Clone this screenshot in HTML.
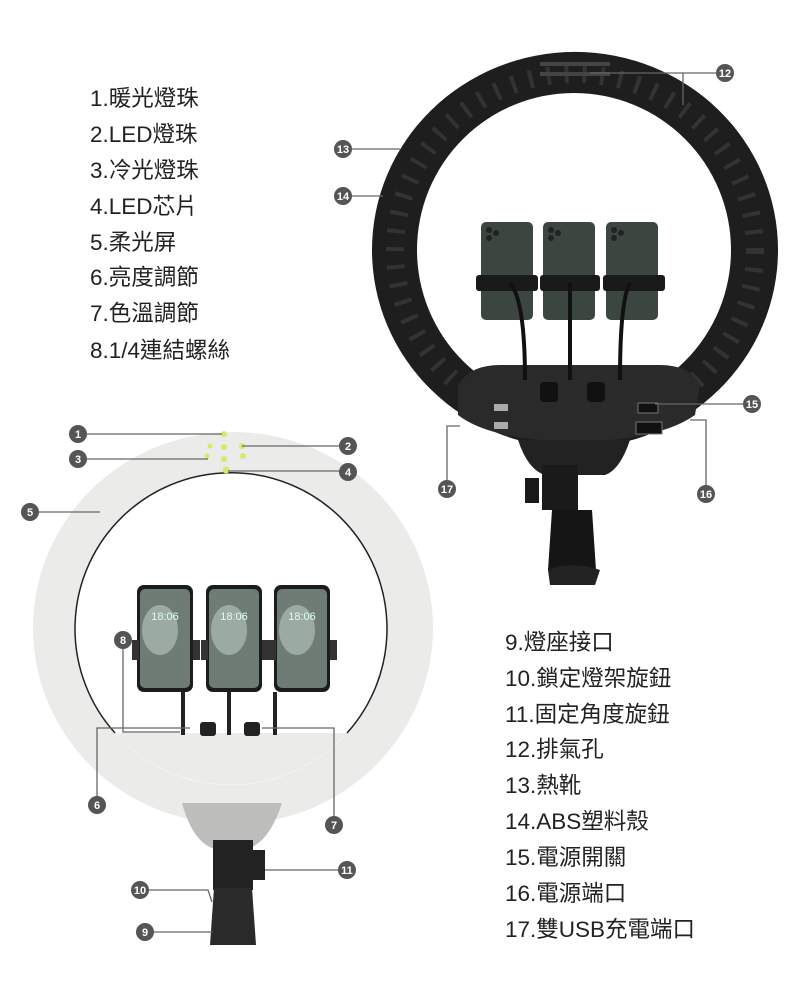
<!DOCTYPE html>
<html><head><meta charset="utf-8"><style>
html,body{margin:0;padding:0;background:#fff;}
svg{display:block;}
text{font-family:"Liberation Sans","Noto Sans CJK TC",sans-serif;}
.l{font-size:22.5px;fill:#222;}
.n{font-size:11px;fill:#fff;font-weight:bold;text-anchor:middle;}
.c{fill:#555;}
.ln{stroke:#666;stroke-width:1.3;fill:none;}
</style></head><body>
<svg width="790" height="1001" viewBox="0 0 790 1001" xmlns="http://www.w3.org/2000/svg">
<!-- BLACK RING -->
<path fill-rule="evenodd" fill="#1e1e1e" d="M372,250 a203,198 0 1,0 406,0 a203,198 0 1,0 -406,0 Z M417,250 a157,157 0 1,0 314,0 a157,157 0 1,0 -314,0 Z"/>
<ellipse cx="575" cy="250" rx="180" ry="176" fill="none" stroke="#333" stroke-width="18" stroke-dasharray="4 14"/>
<rect x="540" y="62" width="70" height="4" fill="#444"/><rect x="540" y="72" width="70" height="4" fill="#444"/>
<!-- black base -->
<path d="M458,385 Q470,365 500,365 L660,365 Q690,365 700,385 L695,415 Q660,440 575,442 Q490,440 458,415 Z" fill="#2a2a2a"/>
<rect x="494" y="404" width="14" height="7" fill="#aaa"/><rect x="494" y="422" width="14" height="7" fill="#aaa"/>
<rect x="638" y="403" width="20" height="10" fill="#111" stroke="#777"/><rect x="636" y="422" width="26" height="12" fill="#111" stroke="#777"/>
<rect x="540" y="382" width="18" height="20" rx="4" fill="#111"/><rect x="587" y="382" width="18" height="20" rx="4" fill="#111"/>
<path d="M518,440 L630,440 Q620,470 605,475 L545,475 Q528,470 518,440 Z" fill="#222"/>
<rect x="542" y="465" width="36" height="45" fill="#1a1a1a"/><rect x="525" y="478" width="14" height="25" fill="#1a1a1a"/>
<path d="M552,510 L592,510 L596,570 L548,570 Z" fill="#151515"/>
<path d="M548,570 Q570,560 600,570 L595,585 L550,585 Z" fill="#222"/>
<!-- black phones -->
<g fill="#3c4640">
<rect x="481" y="222" width="52" height="98" rx="5"/><rect x="543" y="222" width="52" height="98" rx="5"/><rect x="606" y="222" width="52" height="98" rx="5"/>
</g>
<g fill="#1a1a1a"><rect x="476" y="275" width="62" height="16" rx="3"/><rect x="540" y="275" width="60" height="16" rx="3"/><rect x="603" y="275" width="62" height="16" rx="3"/></g>
<g stroke="#111" stroke-width="4" fill="none"><path d="M510,283 Q525,300 525,380"/><path d="M570,283 L570,380"/><path d="M630,283 Q620,300 620,380"/></g>
<g fill="#222"><circle cx="489" cy="230" r="3"/><circle cx="496" cy="233" r="3"/><circle cx="489" cy="238" r="3"/><circle cx="551" cy="230" r="3"/><circle cx="558" cy="233" r="3"/><circle cx="551" cy="238" r="3"/><circle cx="614" cy="230" r="3"/><circle cx="621" cy="233" r="3"/><circle cx="614" cy="238" r="3"/></g>

<!-- WHITE RING -->
<path fill-rule="evenodd" fill="#ebebe9" d="M33,628 a200,196 0 1,0 400,0 a200,196 0 1,0 -400,0 Z M75,629 a156,156 0 1,0 312,0 a156,156 0 1,0 -312,0 Z"/>
<path d="M115,733 L347,733 A156,156 0 0,1 115,733 Z" fill="#ebebe9"/>
<path d="M115,733 A156,156 0 1,1 347,733" fill="none" stroke="#222" stroke-width="1.5"/>
<path d="M182,803 L282,803 Q270,840 250,848 L212,848 Q192,840 182,803 Z" fill="#bdbdbb"/>
<rect x="213" y="840" width="40" height="50" fill="#222"/><rect x="253" y="850" width="12" height="30" fill="#222"/>
<path d="M214,888 L252,888 L256,945 L210,945 Z" fill="#2a2a2a"/>
<!-- LEDs -->
<g fill="#d8e86a"><circle cx="224" cy="434" r="3"/><circle cx="224" cy="447" r="3"/><circle cx="242" cy="446" r="3"/><circle cx="210" cy="446" r="2.5"/><circle cx="224" cy="459" r="3"/><circle cx="243" cy="456" r="3"/><circle cx="207" cy="456" r="2.5"/><circle cx="226" cy="470" r="3.5"/></g>
<!-- white phones -->
<g fill="#1c1c1c"><rect x="137" y="585" width="56" height="107" rx="7"/><rect x="206" y="585" width="56" height="107" rx="7"/><rect x="274" y="585" width="56" height="107" rx="7"/></g>
<g fill="#6f7c76"><rect x="140" y="589" width="50" height="99" rx="5"/><rect x="209" y="589" width="50" height="99" rx="5"/><rect x="277" y="589" width="50" height="99" rx="5"/></g>
<g fill="#a6b6ae" opacity=".8"><ellipse cx="160" cy="630" rx="18" ry="25"/><ellipse cx="229" cy="630" rx="18" ry="25"/><ellipse cx="297" cy="630" rx="18" ry="25"/></g>
<g font-size="11" fill="#dfe" text-anchor="middle"><text x="165" y="620">18:06</text><text x="234" y="620">18:06</text><text x="302" y="620">18:06</text></g>
<g fill="#333"><rect x="132" y="640" width="7" height="20"/><rect x="193" y="640" width="7" height="20"/><rect x="201" y="640" width="7" height="20"/><rect x="262" y="640" width="7" height="20"/><rect x="269" y="640" width="7" height="20"/><rect x="330" y="640" width="7" height="20"/></g>
<g stroke="#222" stroke-width="4"><line x1="183" y1="692" x2="183" y2="735"/><line x1="229" y1="692" x2="229" y2="735"/><line x1="275" y1="692" x2="275" y2="735"/></g>
<rect x="200" y="722" width="16" height="14" rx="3" fill="#222"/><rect x="244" y="722" width="16" height="14" rx="3" fill="#222"/>

<!-- LEADER LINES -->
<g class="ln">
<line x1="86" y1="434" x2="222" y2="434"/><line x1="86" y1="459" x2="208" y2="459"/>
<line x1="242" y1="446" x2="340" y2="446"/><line x1="228" y1="471" x2="340" y2="471"/>
<line x1="38" y1="512" x2="100" y2="512"/>
<polyline points="123,649 123,732 180,732"/>
<polyline points="97,797 97,728 190,728"/>
<polyline points="334,817 334,728 262,728"/>
<line x1="265" y1="870" x2="339" y2="870"/>
<polyline points="148,890 208,890 212,902"/>
<line x1="153" y1="932" x2="213" y2="932"/>
<line x1="590" y1="73" x2="717" y2="73"/><line x1="683" y1="73" x2="683" y2="105"/>
<line x1="351" y1="149" x2="400" y2="149"/><line x1="351" y1="196" x2="383" y2="196"/>
<line x1="655" y1="404" x2="744" y2="404"/>
<polyline points="690,420 706,420 706,486"/>
<polyline points="460,426 447,426 447,481"/>
</g>
<!-- NUMBER BADGES -->
<g>
<circle class="c" cx="78" cy="434" r="9"/><text class="n" x="78" y="438">1</text>
<circle class="c" cx="78" cy="459" r="9"/><text class="n" x="78" y="463">3</text>
<circle class="c" cx="348" cy="446" r="9"/><text class="n" x="348" y="450">2</text>
<circle class="c" cx="348" cy="472" r="9"/><text class="n" x="348" y="476">4</text>
<circle class="c" cx="30" cy="512" r="9"/><text class="n" x="30" y="516">5</text>
<circle class="c" cx="123" cy="640" r="9"/><text class="n" x="123" y="644">8</text>
<circle class="c" cx="97" cy="805" r="9"/><text class="n" x="97" y="809">6</text>
<circle class="c" cx="334" cy="825" r="9"/><text class="n" x="334" y="829">7</text>
<circle class="c" cx="347" cy="870" r="9"/><text class="n" x="347" y="874">11</text>
<circle class="c" cx="140" cy="890" r="9"/><text class="n" x="140" y="894">10</text>
<circle class="c" cx="145" cy="932" r="9"/><text class="n" x="145" y="936">9</text>
<circle class="c" cx="725" cy="73" r="9"/><text class="n" x="725" y="77">12</text>
<circle class="c" cx="343" cy="149" r="9"/><text class="n" x="343" y="153">13</text>
<circle class="c" cx="343" cy="196" r="9"/><text class="n" x="343" y="200">14</text>
<circle class="c" cx="752" cy="404" r="9"/><text class="n" x="752" y="408">15</text>
<circle class="c" cx="706" cy="494" r="9"/><text class="n" x="706" y="498">16</text>
<circle class="c" cx="447" cy="489" r="9"/><text class="n" x="447" y="493">17</text>
</g>
<!-- TEXT LISTS -->
<g class="l">
<text x="90" y="106">1.暖光燈珠</text>
<text x="90" y="142">2.LED燈珠</text>
<text x="90" y="178">3.冷光燈珠</text>
<text x="90" y="214">4.LED芯片</text>
<text x="90" y="250">5.柔光屏</text>
<text x="90" y="285">6.亮度調節</text>
<text x="90" y="321">7.色溫調節</text>
<text x="90" y="358">8.1/4連結螺絲</text>
<text x="505" y="650">9.燈座接口</text>
<text x="505" y="686">10.鎖定燈架旋鈕</text>
<text x="505" y="722">11.固定角度旋鈕</text>
<text x="505" y="757">12.排氣孔</text>
<text x="505" y="793">13.熱靴</text>
<text x="505" y="829">14.ABS塑料殼</text>
<text x="505" y="865">15.電源開關</text>
<text x="505" y="901">16.電源端口</text>
<text x="505" y="937">17.雙USB充電端口</text>
</g>
</svg>
</body></html>
